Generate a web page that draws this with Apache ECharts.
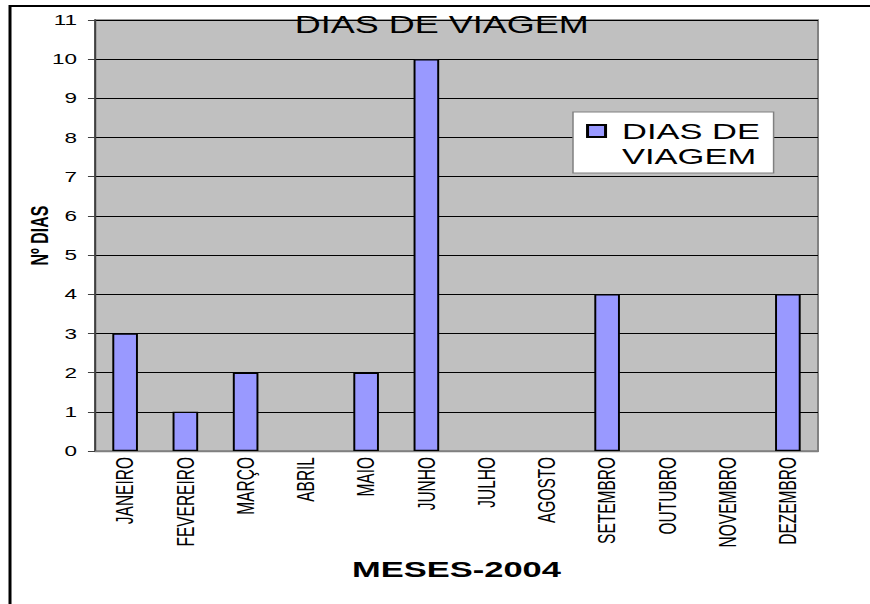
<!DOCTYPE html>
<html>
<head>
<meta charset="utf-8">
<script src="https://cdn.jsdelivr.net/npm/echarts@6/dist/echarts.min.js"></script>
<style>
  html, body { margin: 0; padding: 0; background: #ffffff; overflow: hidden; }
  #chart { width: 580px; height: 604px; transform: scaleX(1.5); transform-origin: 0 0; }
</style>
</head>
<body>
<div id="chart"></div>
<script>
// ---- data ----
const categories = ["JANEIRO", "FEVEREIRO", "MARÇO", "ABRIL", "MAIO", "JUNHO",
                    "JULHO", "AGOSTO", "SETEMBRO", "OUTUBRO", "NOVEMBRO", "DEZEMBRO"];
const diasDeViagem = [3, 1, 2, 0, 2, 10, 0, 0, 4, 0, 0, 4];
const seriesName = "DIAS DE VIAGEM";
const chartTitle = "DIAS DE VIAGEM";
const xAxisName = "MESES-2004";
const yAxisName = "Nº DIAS";

const FONT = "Liberation Sans, Arial, sans-serif";
const chart = echarts.init(document.getElementById('chart'), null, { renderer: 'svg' });

// zero-height bars have no visible outline in the reference
const barData = diasDeViagem.map(function (v) {
  return v === 0 ? { value: v, itemStyle: { borderWidth: 0 } } : v;
});

chart.setOption({
  animation: false,
  backgroundColor: '#ffffff',
  title: {
    text: chartTitle,
    left: 294.5,
    textAlign: 'center',
    top: 12.5,
    padding: 0,
    textStyle: { fontFamily: FONT, fontSize: 24, fontWeight: 'normal', color: '#000000', lineHeight: 24 }
  },
  legend: {
    left: 382,
    top: 112,
    orient: 'vertical',
    padding: [5.7, 9, 3.3, 8.7],
    backgroundColor: '#ffffff',
    borderColor: '#808080',
    borderWidth: 1,
    itemWidth: 12,
    itemHeight: 50,
    icon: 'path://M0,0M0,6.3L12,6.3L12,18.3L0,18.3ZM0,50',
    formatter: function () { return 'DIAS DE\nVIAGEM'; },
    textStyle: { fontFamily: FONT, fontSize: 23, lineHeight: 25, color: '#000000', padding: [0, 0, 0, 6] },
    data: [seriesName]
  },
  graphic: [{
    type: 'rect',
    z: -10,
    silent: true,
    shape: { x: 6.67, y: 6, width: 800, height: 800 },
    style: { fill: 'none', stroke: '#000000', lineWidth: 2 }
  }],
  grid: {
    left: 63.33,
    top: 20,
    width: 482,
    height: 431,
    show: true,
    backgroundColor: '#c0c0c0',
    borderColor: '#808080',
    borderWidth: 1.3
  },
  xAxis: {
    type: 'category',
    data: categories,
    name: xAxisName,
    nameLocation: 'middle',
    nameGap: 106,
    nameMoveOverlap: false,
    nameTextStyle: { fontFamily: FONT, fontSize: 23, fontWeight: 'bold', color: '#000000' },
    axisLine: { show: true, lineStyle: { color: '#808080', width: 1.3 } },
    axisTick: { show: false },
    axisLabel: { rotate: 90, interval: 0, margin: 6, fontFamily: FONT, fontSize: 15.5, color: '#000000' },
    splitLine: { show: false }
  },
  yAxis: {
    type: 'value',
    min: 0,
    max: 11,
    interval: 1,
    name: yAxisName,
    nameLocation: 'middle',
    nameGap: 29,
    nameMoveOverlap: false,
    nameTextStyle: { fontFamily: FONT, fontSize: 16, fontWeight: 'bold', color: '#000000' },
    axisLine: { show: true, lineStyle: { color: '#404040', width: 1.3 } },
    axisTick: { show: true, length: 4.7, lineStyle: { color: '#404040', width: 1 } },
    axisLabel: { margin: 12, fontFamily: FONT, fontSize: 15, color: '#000000' },
    splitLine: { show: true, lineStyle: { color: '#000000', width: 1 } }
  },
  series: [{
    name: seriesName,
    type: 'bar',
    data: barData,
    barWidth: '42.5%',
    itemStyle: { color: '#9999ff', borderColor: '#000000', borderWidth: 1.3 }
  }]
});
</script>
</body>
</html>
